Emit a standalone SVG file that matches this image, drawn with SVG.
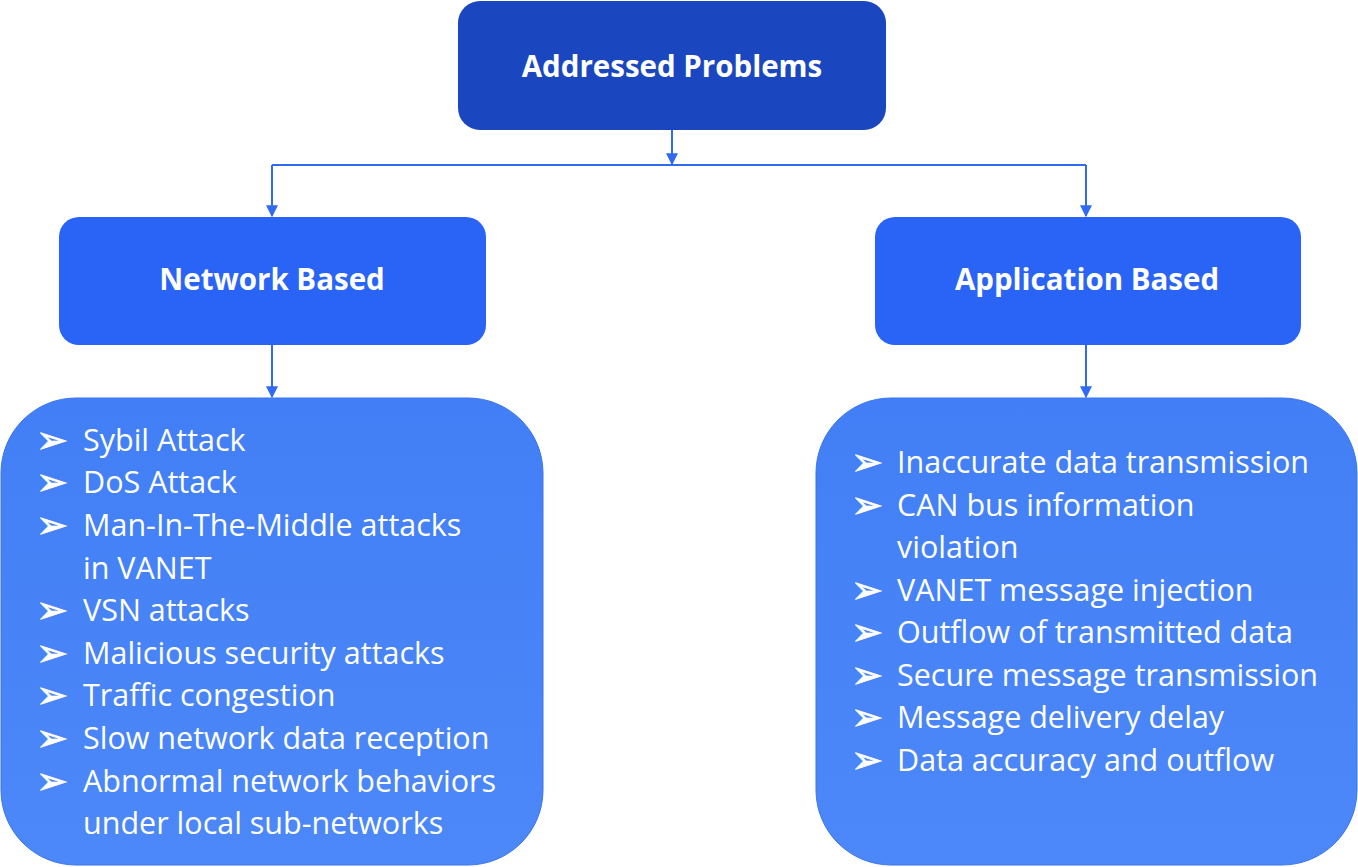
<svg xmlns="http://www.w3.org/2000/svg" width="1358" height="867" viewBox="0 0 1358 867">
<defs>
<style>
.title{font-family:"Open Sans","Liberation Sans",sans-serif;font-weight:bold;fill:#fff;text-anchor:middle;font-size:29.5px}
.item{font-family:"Open Sans","Liberation Sans",sans-serif;font-size:30.5px;fill:#fff}
.bul{font-family:"DejaVu Sans",sans-serif;font-size:38px;fill:#fff;stroke:#fff;stroke-width:0.8}
.conn{stroke:#2F6BF2;stroke-width:2;fill:none}
</style>
<linearGradient id="lg" x1="0" y1="0" x2="0" y2="1">
<stop offset="0" stop-color="#427FF6"/>
<stop offset="1" stop-color="#4C88F8"/>
</linearGradient>
<marker id="ah" viewBox="0 0 10 10" refX="9" refY="5" markerWidth="12" markerHeight="12" markerUnits="userSpaceOnUse" orient="auto">
<path d="M0,0 L10,5 L0,10 z" fill="#2F6BF2"/>
</marker>
</defs>
<g id="connectors">
<path class="conn" d="M672,130 V164" marker-end="url(#ah)"/>
<path class="conn" d="M272,165 H1086"/>
<path class="conn" d="M272,165 V216" marker-end="url(#ah)"/>
<path class="conn" d="M1086,165 V216" marker-end="url(#ah)"/>
<path class="conn" d="M272,345 V397" marker-end="url(#ah)"/>
<path class="conn" d="M1086,345 V397" marker-end="url(#ah)"/>
</g>
<g id="addressed">
<rect x="458" y="1" width="428" height="129" rx="22" fill="#1A47C0"/>
<text class="title" x="672" y="77">Addressed Problems</text>
</g>
<g id="network">
<rect x="59" y="217" width="427" height="128" rx="20" fill="#2A64F6"/>
<text class="title" x="272" y="290">Network Based</text>
</g>
<g id="application">
<rect x="875" y="217" width="426" height="128" rx="20" fill="#2A64F6"/>
<text class="title" x="1087" y="290">Application Based</text>
</g>
<g id="network-list">
<rect x="1" y="398" width="542" height="467" rx="75" fill="url(#lg)" stroke="#3A74EE" stroke-width="1"/>
<g class="bul">
<text x="36" y="453">➢</text><text x="36" y="495">➢</text><text x="36" y="538">➢</text>
<text x="36" y="623">➢</text><text x="36" y="666">➢</text><text x="36" y="708">➢</text>
<text x="36" y="751">➢</text><text x="36" y="794">➢</text>
</g>
<g class="item">
<text x="83" y="451">Sybil Attack</text>
<text x="83" y="493">DoS Attack</text>
<text x="83" y="536">Man-In-The-Middle attacks</text>
<text x="83" y="579">in VANET</text>
<text x="83" y="621">VSN attacks</text>
<text x="83" y="664">Malicious security attacks</text>
<text x="83" y="706">Traffic congestion</text>
<text x="83" y="749">Slow network data reception</text>
<text x="83" y="792">Abnormal network behaviors</text>
<text x="83" y="834">under local sub-networks</text>
</g>
</g>
<g id="application-list">
<rect x="816" y="398" width="541" height="467" rx="75" fill="url(#lg)" stroke="#3A74EE" stroke-width="1"/>
<g class="bul">
<text x="851" y="475">➢</text><text x="851" y="518">➢</text>
<text x="851" y="603">➢</text><text x="851" y="645">➢</text><text x="851" y="688">➢</text>
<text x="851" y="730">➢</text><text x="851" y="773">➢</text>
</g>
<g class="item">
<text x="897" y="473">Inaccurate data transmission</text>
<text x="897" y="516">CAN bus information</text>
<text x="897" y="558">violation</text>
<text x="897" y="601">VANET message injection</text>
<text x="897" y="643">Outflow of transmitted data</text>
<text x="897" y="686">Secure message transmission</text>
<text x="897" y="728">Message delivery delay</text>
<text x="897" y="771">Data accuracy and outflow</text>
</g>
</g>
</svg>
